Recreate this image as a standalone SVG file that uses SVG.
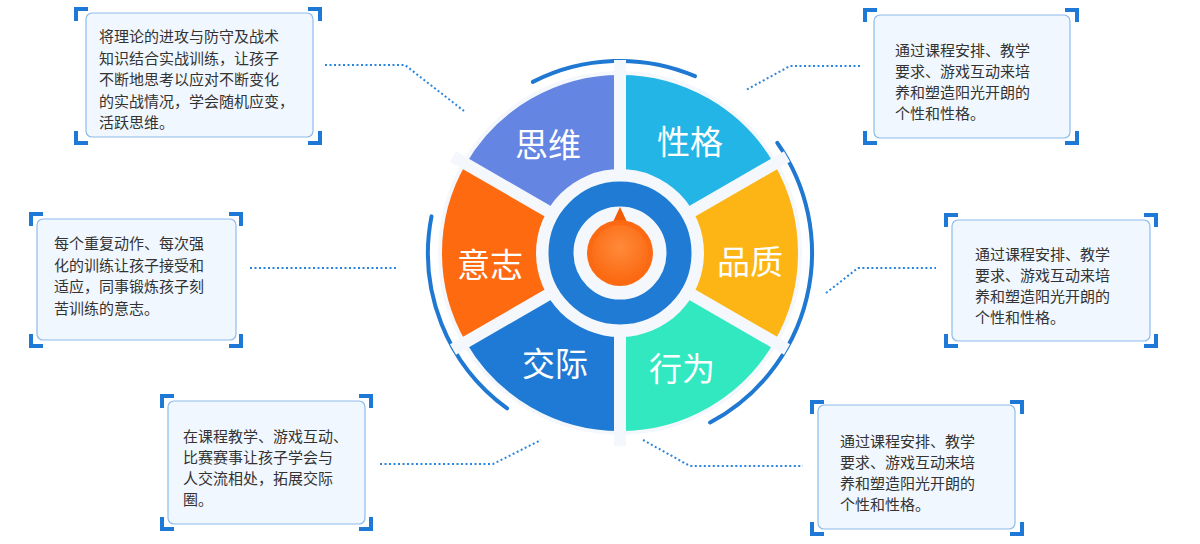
<svg xmlns="http://www.w3.org/2000/svg" width="1200" height="544" viewBox="0 0 1200 544">
<style>
.box{fill:#f1f7fe;stroke:#8dbcec;stroke-width:1.2}
.br{fill:none;stroke:#1e78d6;stroke-width:4}
.bt{font-family:"Noto Sans CJK SC","Noto Sans",sans-serif;font-size:15px;fill:#333}
.lab{font-family:"Noto Sans CJK SC",sans-serif;font-size:33px;fill:#fff;text-anchor:middle;dominant-baseline:central}
.con{fill:none;stroke:#2a85e0;stroke-width:2;stroke-dasharray:2 2.5}
.arc{fill:none;stroke:#1f78d1;stroke-width:4;stroke-linecap:round}
.gap{stroke:#f4f7fc;stroke-width:12}
</style>
<defs>
<radialGradient id="og" cx="0.5" cy="0.4" r="0.6"><stop offset="0" stop-color="#ff8a3a"/><stop offset="1" stop-color="#fb6a12"/></radialGradient>
</defs>
<g id="connectors">
<polyline class="con" points="325,65 405,65 464,111"/>
<polyline class="con" points="860,66 790,66 746,90"/>
<polyline class="con" points="250,268 398,268"/>
<polyline class="con" points="826,293 858,268 936,268"/>
<polyline class="con" points="380,464 493,464 541,440"/>
<polyline class="con" points="643,440 690,466 803,466"/>
</g>
<g id="wheel">
<circle cx="620" cy="253" r="182" fill="#f4f7fc"/>
<path class="arc" d="M532.8,81.9 A192,192 0 0 1 695,76.2"/>
<path class="arc" d="M777.3,142.8 A192,192 0 0 1 710.1,422.5"/>
<path class="arc" d="M507.1,408.4 A192,192 0 0 1 431.5,216.4"/>
<g stroke-linejoin="round" stroke-width="8">
<path id="n-siwei" fill="#6585e3" stroke="#6585e3" d="M469.3,166 A174,174 0 0 1 620,79 L620,169 L547.3,211 Z"/>
<path id="n-xingge" fill="#22b5e6" stroke="#22b5e6" d="M620,79 A174,174 0 0 1 770.7,166 L692.7,211 L620,169 Z"/>
<path id="n-pinzhi" fill="#fdb515" stroke="#fdb515" d="M770.7,166 A174,174 0 0 1 770.7,340 L692.7,295 L692.7,211 Z"/>
<path id="n-xingwei" fill="#31e8c0" stroke="#31e8c0" d="M770.7,340 A174,174 0 0 1 620,427 L620,337 L692.7,295 Z"/>
<path id="n-jiaoji" fill="#1e7ad4" stroke="#1e7ad4" d="M620,427 A174,174 0 0 1 469.3,340 L547.3,295 L620,337 Z"/>
<path id="n-yizhi" fill="#fd6a0f" stroke="#fd6a0f" d="M469.3,340 A174,174 0 0 1 469.3,166 L547.3,211 L547.3,295 Z"/>
</g>
<g class="gap">
<line x1="620" y1="253" x2="620" y2="60"/>
<line x1="620" y1="253" x2="620" y2="446"/>
<line x1="620" y1="253" x2="787" y2="156.5"/>
<line x1="620" y1="253" x2="787" y2="349.5"/>
<line x1="620" y1="253" x2="453" y2="156.5"/>
<line x1="620" y1="253" x2="453" y2="349.5"/>
</g>
<circle cx="620" cy="253" r="84" fill="#f4f7fc"/>
<circle cx="620" cy="253" r="59" fill="none" stroke="#1f7bd3" stroke-width="25"/>
<path d="M620,207 L612,224 L628,224 Z" fill="#f25c05"/>
<circle cx="620" cy="253" r="33" fill="#fb6a12"/>
<circle cx="620" cy="253" r="28" fill="url(#og)"/>
<text class="lab" x="548" y="143">思维</text>
<text class="lab" x="690" y="140">性格</text>
<text class="lab" x="750" y="260">品质</text>
<text class="lab" x="490" y="263">意志</text>
<text class="lab" x="555" y="362">交际</text>
<text class="lab" x="682" y="367">行为</text>
</g>
<g id="box1">
<rect class="box" x="86" y="13" width="227" height="124" rx="6"/>
<path class="br" d="M76,21 V9 H88 M308,9 H320 V21 M76,131 V143 H88 M308,143 H320 V131"/>
<text class="bt" x="99" y="42">将理论的进攻与防守及战术<tspan x="99" dy="21.5">知识结合实战训练，让孩子</tspan><tspan x="99" dy="21.5">不断地思考以应对不断变化</tspan><tspan x="99" dy="21.5">的实战情况，学会随机应变，</tspan><tspan x="99" dy="21.5">活跃思维。</tspan></text>
</g>
<g id="box2">
<rect class="box" x="874" y="15" width="196" height="123" rx="6"/>
<path class="br" d="M865,22 V10 H877 M1065,10 H1077 V22 M865,131 V143 H877 M1065,143 H1077 V131"/>
<text class="bt" x="895" y="56">通过课程安排、教学<tspan x="895" dy="21">要求、游戏互动来培</tspan><tspan x="895" dy="21">养和塑造阳光开朗的</tspan><tspan x="895" dy="21">个性和性格。</tspan></text>
</g>
<g id="box3">
<rect class="box" x="37" y="219" width="199" height="121" rx="6"/>
<path class="br" d="M31,226 V214 H43 M229,214 H241 V226 M31,334 V346 H43 M229,346 H241 V334"/>
<text class="bt" x="54" y="249">每个重复动作、每次强<tspan x="54" dy="21.5">化的训练让孩子接受和</tspan><tspan x="54" dy="21.5">适应，同事锻炼孩子刻</tspan><tspan x="54" dy="21.5">苦训练的意志。</tspan></text>
</g>
<g id="box4">
<rect class="box" x="952" y="220" width="198" height="121" rx="6"/>
<path class="br" d="M946,227 V215 H958 M1144,215 H1156 V227 M946,334 V346 H958 M1144,346 H1156 V334"/>
<text class="bt" x="975" y="260">通过课程安排、教学<tspan x="975" dy="21">要求、游戏互动来培</tspan><tspan x="975" dy="21">养和塑造阳光开朗的</tspan><tspan x="975" dy="21">个性和性格。</tspan></text>
</g>
<g id="box5">
<rect class="box" x="168" y="401" width="197" height="123" rx="6"/>
<path class="br" d="M162,408 V396 H174 M359,396 H371 V408 M162,517 V529 H174 M359,529 H371 V517"/>
<text class="bt" x="183" y="442">在课程教学、游戏互动、<tspan x="183" dy="21">比赛赛事让孩子学会与</tspan><tspan x="183" dy="21">人交流相处，拓展交际</tspan><tspan x="183" dy="21">圈。</tspan></text>
</g>
<g id="box6">
<rect class="box" x="818" y="405" width="197" height="124" rx="6"/>
<path class="br" d="M812,414 V402 H824 M1010,402 H1022 V414 M812,522 V534 H824 M1010,534 H1022 V522"/>
<text class="bt" x="840" y="447">通过课程安排、教学<tspan x="840" dy="21">要求、游戏互动来培</tspan><tspan x="840" dy="21">养和塑造阳光开朗的</tspan><tspan x="840" dy="21">个性和性格。</tspan></text>
</g>
</svg>
